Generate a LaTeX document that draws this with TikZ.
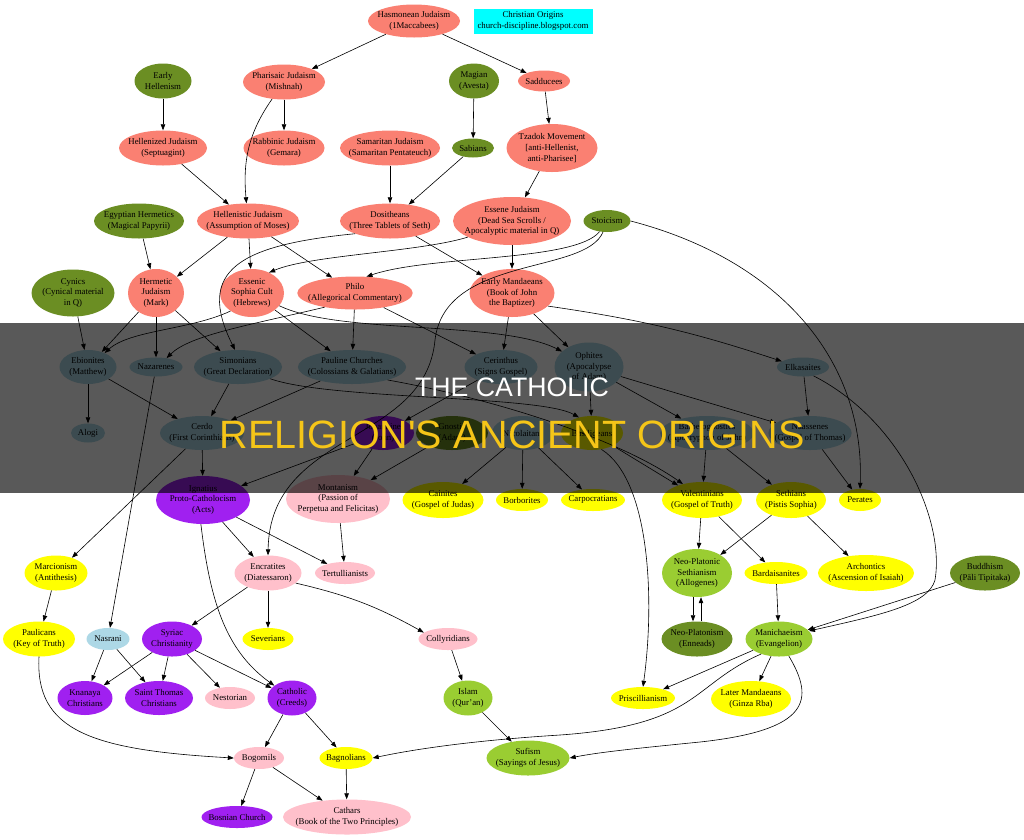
\documentclass[tikz,border=0pt]{standalone}
\usepackage{fontspec}
\setmainfont{Liberation Serif}
\newfontfamily\titlefont{Liberation Sans}
\usetikzlibrary{shapes.geometric,arrows.meta}

\definecolor{salmonc}{HTML}{FA8072}
\definecolor{olivec}{HTML}{6B8E23}
\definecolor{bluec}{HTML}{ADD8E6}
\definecolor{yellowc}{HTML}{FFFF00}
\definecolor{purplec}{HTML}{A020F0}
\definecolor{pinkc}{HTML}{FFC0CB}
\definecolor{greenc}{HTML}{9ACD32}
\definecolor{cyanc}{HTML}{00FFFF}
\definecolor{titleyellow}{HTML}{F5C518}

\begin{document}
\begin{tikzpicture}[x=1pt, y=-1pt,
  faith/.style={ellipse, align=center, font=\fontsize{8.8}{10.7}\selectfont, inner xsep=-6pt, inner ysep=0pt},
  jewish/.style={faith, fill=salmonc},
  greek/.style={faith, fill=olivec},
  jchrist/.style={faith, fill=bluec},
  gnostic/.style={faith, fill=yellowc},
  catholic/.style={faith, fill=purplec},
  sect/.style={faith, fill=pinkc},
  mixed/.style={faith, fill=greenc},
  arrow/.style={-{Triangle[length=6pt,width=4.5pt]}, line width=0.6pt},
]
\useasboundingbox (0,0) rectangle (1024,839);
\fill[white] (0,0) rectangle (1024,839);

% === JEWISH AND HELLENIC ROOTS ===
\node[jewish, minimum width=92pt, minimum height=33pt] (hasmon) at (414,21) {Hasmonean Judaism\\(1Maccabees)};
\node[rectangle, fill=cyanc, align=center, font=\fontsize{8.8}{10.7}\selectfont, inner sep=0pt, minimum width=119pt, minimum height=25pt] (origins) at (533,21) {Christian Origins\\church-discipline.blogspot.com};
\node[greek, minimum width=57pt, minimum height=35pt] (earlyhel) at (163,81) {Early\\Hellenism};
\node[jewish, minimum width=82pt, minimum height=35pt] (pharis) at (284,82) {Pharisaic Judaism\\(Mishnah)};
\node[greek, minimum width=50pt, minimum height=35pt] (magian) at (474,81) {Magian\\(Avesta)};
\node[jewish, minimum width=52pt, minimum height=21pt] (sadduc) at (544,81) {Sadducees};
\node[jewish, minimum width=88pt, minimum height=35pt] (hellenized) at (163,148) {Hellenized Judaism\\(Septuagint)};
\node[jewish, minimum width=81pt, minimum height=35pt] (rabbinic) at (284,148) {Rabbinic Judaism\\(Gemara)};
\node[jewish, minimum width=100pt, minimum height=35pt] (samarit) at (390,148) {Samaritan Judaism\\(Samaritan Pentateuch)};
\node[greek, minimum width=42pt, minimum height=19pt] (sabians) at (473,148) {Sabians};
\node[jewish, minimum width=91pt, minimum height=48pt] (tzadok) at (552,148) {Tzadok Movement\\{}[anti-Hellenist,\\anti-Pharisee]};
\node[greek, minimum width=90pt, minimum height=35pt] (egyherm) at (139,221) {Egyptian Hermetics\\(Magical Papyrii)};
\node[jewish, minimum width=102pt, minimum height=35pt] (hellenistic) at (248,221) {Hellenistic Judaism\\(Assumption of Moses)};
\node[jewish, minimum width=100pt, minimum height=35pt] (dosith) at (390,221) {Dositheans\\(Three Tablets of Seth)};
\node[jewish, minimum width=118pt, minimum height=48pt] (essene) at (512,221) {Essene Judaism\\(Dead Sea Scrolls /\\Apocalyptic material in Q)};
\node[greek, minimum width=47pt, minimum height=22pt] (stoic) at (607,221) {Stoicism};
\node[greek, minimum width=83pt, minimum height=47pt] (cynics) at (73,293) {Cynics\\(Cynical material\\in Q)};
\node[jewish, minimum width=56pt, minimum height=48pt] (hermetic) at (156,293) {Hermetic\\Judaism\\(Mark)};
\node[jewish, minimum width=64pt, minimum height=48pt] (sophia) at (252,293) {Essenic\\Sophia Cult\\(Hebrews)};
\node[jewish, minimum width=114pt, minimum height=33pt] (philo) at (355,293) {Philo\\(Allegorical Commentary)};
\node[jewish, minimum width=85pt, minimum height=48pt] (mandaean) at (512,293) {Early Mandaeans\\(Book of John\\the Baptizer)};

% === EARLY CHRISTIAN GROUPS ===
\node[jchrist, minimum width=57pt, minimum height=34pt] (ebion) at (88,367) {Ebionites\\(Matthew)};
\node[jchrist, minimum width=53pt, minimum height=19pt] (nazar) at (156,367) {Nazarenes};
\node[jchrist, minimum width=88pt, minimum height=34pt] (simon) at (238,367) {Simonians\\(Great Declaration)};
\node[jchrist, minimum width=108pt, minimum height=34pt] (pauline) at (352,367) {Pauline Churches\\(Colossians \& Galatians)};
\node[jchrist, minimum width=73pt, minimum height=34pt] (cerinth) at (501,367) {Cerinthus\\(Signs Gospel)};
\node[jchrist, minimum width=69pt, minimum height=49pt] (ophites) at (589,367) {Ophites\\(Apocalypse\\of Adam)};
\node[jchrist, minimum width=52pt, minimum height=19pt] (elkas) at (803,367) {Elkasaites};
\node[jchrist, minimum width=34pt, minimum height=19pt] (alogi) at (88,433) {Alogi};
\node[jchrist, minimum width=84pt, minimum height=34pt] (cerdo) at (202,433) {Cerdo\\(First Corinthians)};
\node[catholic, minimum width=62pt, minimum height=34pt] (johann) at (383,433) {Johannine\\(John)};
\node[greek, minimum width=72pt, minimum height=34pt] (hgnost) at (452,433) {Gnostic\\(Adam)};
\node[jchrist, minimum width=62pt, minimum height=34pt] (nicol) at (523,433) {Nicolaitans};
\node[gnostic, minimum width=62pt, minimum height=34pt] (basil) at (592,433) {Basilideans};
\node[jchrist, minimum width=92pt, minimum height=34pt] (barbelo) at (707,433) {Barbelognostics\\(Apocryphon of John)};
\node[jchrist, minimum width=67pt, minimum height=34pt] (naass) at (810,433) {Naassenes\\(Gospel of Thomas)};

% === LATER SECTS ===
\node[catholic, minimum width=94pt, minimum height=48pt] (proto) at (203,500) {Ignatius\\Proto-Catholocism\\(Acts)};
\node[sect, minimum width=104pt, minimum height=48pt] (montan) at (338,499) {Montanism\\(Passion of\\Perpetua and Felicitas)};
\node[gnostic, minimum width=81pt, minimum height=36pt] (cainit) at (443,500) {Cainites\\(Gospel of Judas)};
\node[gnostic, minimum width=52pt, minimum height=22pt] (borbor) at (522,500) {Borborites};
\node[gnostic, minimum width=64pt, minimum height=22pt] (carpo) at (593,500) {Carpocratians};
\node[gnostic, minimum width=80pt, minimum height=36pt] (valent) at (702,500) {Valentinians\\(Gospel of Truth)};
\node[gnostic, minimum width=70pt, minimum height=36pt] (sethian) at (791,500) {Sethians\\(Pistis Sophia)};
\node[gnostic, minimum width=42pt, minimum height=22pt] (perates) at (860,500) {Perates};
\node[gnostic, minimum width=63pt, minimum height=35pt] (marcion) at (56,573) {Marcionism\\(Antithesis)};
\node[sect, minimum width=67pt, minimum height=35pt] (encrat) at (268,573) {Encratites\\(Diatessaron)};
\node[sect, minimum width=60pt, minimum height=22pt] (tertul) at (345,573) {Tertullianists};
\node[mixed, minimum width=70pt, minimum height=48pt] (neoseth) at (697,573) {Neo-Platonic\\Sethianism\\(Allogenes)};
\node[gnostic, minimum width=63pt, minimum height=22pt] (bardai) at (776,573) {Bardaisanites};
\node[gnostic, minimum width=96pt, minimum height=36pt] (archon) at (866,573) {Archontics\\(Ascension of Isaiah)};
\node[greek, minimum width=70pt, minimum height=35pt] (buddha) at (985,573) {Buddhism\\(Pāli Tipitaka)};
\node[gnostic, minimum width=72pt, minimum height=35pt] (paulic) at (39,639) {Paulicans\\(Key of Truth)};
\node[jchrist, minimum width=43pt, minimum height=22pt] (nasrani) at (108,639) {Nasrani};
\node[catholic, minimum width=60pt, minimum height=35pt] (syriac) at (172,639) {Syriac\\Christianity};
\node[gnostic, minimum width=51pt, minimum height=22pt] (sever) at (268,639) {Severians};
\node[sect, minimum width=59pt, minimum height=22pt] (collyr) at (448,639) {Collyridians};
\node[greek, minimum width=71pt, minimum height=35pt] (neoplat) at (697,639) {Neo-Platonism\\(Enneads)};
\node[mixed, minimum width=67pt, minimum height=35pt] (mani) at (779,639) {Manichaeism\\(Evangelion)};
\node[catholic, minimum width=55pt, minimum height=34pt] (knanaya) at (85,698) {Knanaya\\Christians};
\node[catholic, minimum width=68pt, minimum height=34pt] (thomas) at (159,698) {Saint Thomas\\Christians};
\node[sect, minimum width=50pt, minimum height=22pt] (nestor) at (230,698) {Nestorian};
\node[catholic, minimum width=49pt, minimum height=35pt] (cathol) at (292,698) {Catholic\\(Creeds)};
\node[mixed, minimum width=49pt, minimum height=35pt] (islam) at (468,698) {Islam\\(Qur'an)};
\node[gnostic, minimum width=64pt, minimum height=22pt] (prisc) at (643,698) {Priscillianism};
\node[gnostic, minimum width=80pt, minimum height=36pt] (latemand) at (751,699) {Later Mandaeans\\(Ginza Rba)};
\node[sect, minimum width=50pt, minimum height=22pt] (bogom) at (259,758) {Bogomils};
\node[gnostic, minimum width=53pt, minimum height=22pt] (bagnol) at (346,758) {Bagnolians};
\node[mixed, minimum width=83pt, minimum height=35pt] (sufism) at (528,758) {Sufism\\(Sayings of Jesus)};
\node[catholic, minimum width=71pt, minimum height=22pt] (bosnian) at (237,817) {Bosnian Church};
\node[sect, minimum width=122pt, minimum height=35pt] (cathars) at (347,817) {Cathars\\(Book of the Two Principles)};

% === LINEAGES ===
\draw[arrow] (hasmon) -- (pharis);
\draw[arrow] (hasmon) -- (sadduc);
\draw[arrow] (earlyhel) -- (hellenized);
\draw[arrow] (pharis) -- (rabbinic);
\draw[arrow] (pharis) to[out=-125, in=95] (hellenistic);
\draw[arrow] (magian) -- (sabians);
\draw[arrow] (sadduc) -- (tzadok);
\draw[arrow] (hellenized) -- (hellenistic);
\draw[arrow] (samarit) -- (dosith);
\draw[arrow] (sabians) -- (dosith);
\draw[arrow] (tzadok) -- (essene);
\draw[arrow] (egyherm) -- (hermetic);
\draw[arrow] (hellenistic) -- (hermetic);
\draw[arrow] (hellenistic) -- (sophia);
\draw[arrow] (hellenistic) -- (philo);
\draw[arrow] (essene.200) .. controls (420,252) and (310,255) .. (sophia.50);
\draw[arrow] (dosith.200) .. controls (240,245) and (195,270) .. (simon.100);
\draw[arrow] (dosith) -- (mandaean);
\draw[arrow] (essene) -- (mandaean);
\draw[arrow] (stoic.235) .. controls (575,262) and (430,255) .. (philo.55);
\draw[arrow] (stoic.250) .. controls (585,275) and (445,255) .. (435,340) .. controls (425,445) and (270,430) .. (encrat.north);
\draw[arrow] (stoic.east) .. controls (780,260) and (865,360) .. (perates.north);

\draw[arrow] (cynics) -- (ebion);
\draw[arrow] (hermetic) -- (ebion);
\draw[arrow] (hermetic) -- (nazar);
\draw[arrow] (hermetic) -- (simon);
\draw[arrow] (sophia.220) .. controls (190,330) and (130,330) .. (ebion.40);
\draw[arrow] (philo.205) .. controls (250,325) and (190,335) .. (nazar.40);
\draw[arrow] (sophia) -- (pauline);
\draw[arrow] (sophia.-25) .. controls (340,335) and (500,320) .. (ophites.150);
\draw[arrow] (philo) -- (pauline);
\draw[arrow] (philo) -- (cerinth);
\draw[arrow] (mandaean) -- (cerinth);
\draw[arrow] (mandaean) -- (ophites);
\draw[arrow] (mandaean.-20) to[bend left=5] (elkas.165);

\draw[arrow] (ebion) -- (alogi);
\draw[arrow] (ebion) -- (cerdo);
\draw[arrow] (simon) -- (cerdo);
\draw[arrow] (pauline) -- (cerdo);
\draw[arrow] (simon.-20) .. controls (330,400) and (540,395) .. (basil.130);
\draw[arrow] (pauline.-20) .. controls (500,400) and (620,440) .. (valent.140);
\draw[arrow] (cerinth) -- (johann);
\draw[arrow] (ophites) -- (basil);
\draw[arrow] (ophites) -- (barbelo);
\draw[arrow] (ophites) -- (naass);
\draw[arrow] (elkas) -- (naass);
\draw[arrow] (elkas.-40) .. controls (900,420) and (945,520) .. (935,580) .. controls (928,605) and (880,615) .. (mani.15);
\draw[arrow] (naass) -- (perates);

\draw[arrow] (cerdo) -- (proto);
\draw[arrow] (cerdo) -- (marcion);
\draw[arrow] (nazar) -- (nasrani);
\draw[arrow] (johann) -- (proto);
\draw[arrow] (johann) -- (montan);
\draw[arrow] (hgnost) -- (montan);
\draw[arrow] (nicol) -- (cainit);
\draw[arrow] (nicol) -- (borbor);
\draw[arrow] (nicol) -- (carpo);
\draw[arrow] (basil) -- (valent);
\draw[arrow] (basil.-60) .. controls (650,480) and (655,600) .. (prisc.north);
\draw[arrow] (barbelo) -- (valent);
\draw[arrow] (barbelo) -- (sethian);

\draw[arrow] (proto) -- (encrat);
\draw[arrow] (proto) -- (tertul);
\draw[arrow] (proto.265) .. controls (210,600) and (225,650) .. (cathol.145);
\draw[arrow] (montan) -- (tertul);
\draw[arrow] (valent) -- (neoseth);
\draw[arrow] (valent) -- (bardai);
\draw[arrow] (sethian) -- (neoseth);
\draw[arrow] (sethian) -- (archon);
\draw[arrow] ([xshift=-4pt]neoseth.south) -- ([xshift=-4pt]neoplat.north);
\draw[arrow] ([xshift=4pt]neoplat.north) -- ([xshift=4pt]neoseth.south);
\draw[arrow] (bardai) -- (mani);
\draw[arrow] (buddha) -- (mani);

\draw[arrow] (marcion) -- (paulic);
\draw[arrow] (encrat) -- (syriac);
\draw[arrow] (encrat) -- (sever);
\draw[arrow] (encrat.-20) to[bend left=8] (collyr.165);
\draw[arrow] (nasrani) -- (knanaya);
\draw[arrow] (nasrani) -- (thomas);
\draw[arrow] (syriac) -- (knanaya);
\draw[arrow] (syriac) -- (thomas);
\draw[arrow] (syriac) -- (nestor);
\draw[arrow] (syriac) -- (cathol);
\draw[arrow] (collyr) -- (islam);
\draw[arrow] (mani) -- (latemand);
\draw[arrow] (mani) -- (prisc);
\draw[arrow] (mani.220) .. controls (690,685) and (700,725) .. (560,735) .. controls (480,740) and (420,748) .. (bagnol.east);
\draw[arrow] (mani.-60) .. controls (815,700) and (810,730) .. (700,742) .. controls (640,748) and (600,752) .. (sufism.east);

\draw[arrow] (paulic.south) .. controls (35,730) and (90,750) .. (bogom.west);
\draw[arrow] (cathol) -- (bogom);
\draw[arrow] (cathol) -- (bagnol);
\draw[arrow] (islam) -- (sufism);
\draw[arrow] (bogom) -- (bosnian);
\draw[arrow] (bogom) -- (cathars);
\draw[arrow] (bagnol) -- (cathars);

% === TITLE BANNER ===
\fill[black, fill opacity=0.65] (0,323) rectangle (1024,493);
\node[font=\titlefont\fontsize{26.7}{30}\selectfont, text=white, inner sep=0pt] (headline) at (512,387) {THE CATHOLIC};
\node[font=\titlefont\fontsize{39.5}{44}\selectfont, text=titleyellow, inner sep=0pt] (subline) at (512,435) {RELIGION'S ANCIENT ORIGINS};
\end{tikzpicture}
\end{document}
